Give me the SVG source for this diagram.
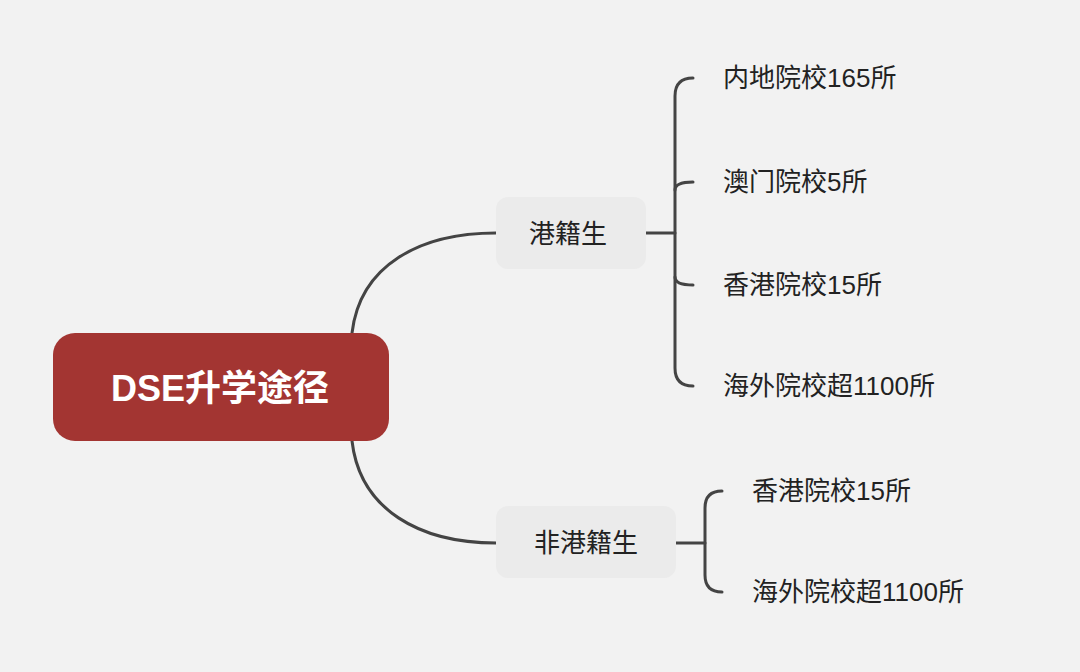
<svg xmlns="http://www.w3.org/2000/svg" width="1080" height="672" viewBox="0 0 1080 672">
<style>
.c{fill:none;stroke:#444;stroke-width:3;stroke-linecap:round}
.t{font-family:"Liberation Sans","Noto Sans CJK SC",sans-serif;font-size:26px;fill:#222;dominant-baseline:central}
.b{fill:#ebebeb}
</style>
<rect width="1080" height="672" fill="#f2f2f2"/>
<g id="connectors">
<path class="c" d="M352,333 C360,265 420,233 496,233"/>
<path class="c" d="M352,441 C360,510 420,543 496,543"/>
<path class="c" d="M646,233 H675"/>
<path class="c" d="M693,78 Q675,78 675,96 V368 Q675,386 693,386"/>
<path class="c" d="M675,190 Q675,182 693,182"/>
<path class="c" d="M675,277 Q675,285 693,285"/>
<path class="c" d="M676,543 H705"/>
<path class="c" d="M722,491 Q705,491 705,508 V575 Q705,592 722,592"/>
</g>
<g id="root"><rect x="53" y="333" width="336" height="108" rx="22" fill="#a33532"/>
<text x="220" y="388" text-anchor="middle" style="font-family:'Liberation Sans','Noto Sans CJK SC',sans-serif;font-size:36px;font-weight:bold;fill:#fff;dominant-baseline:central">DSE升学途径</text></g>
<g id="n1"><rect class="b" x="496" y="197" width="150" height="72" rx="12"/><text class="t" x="568" y="234" text-anchor="middle">港籍生</text></g>
<g id="n2"><rect class="b" x="496" y="506" width="180" height="72" rx="12"/><text class="t" x="586" y="543" text-anchor="middle">非港籍生</text></g>
<g id="l1"><text class="t" x="723" y="78">内地院校165所</text></g>
<g id="l2"><text class="t" x="723" y="182">澳门院校5所</text></g>
<g id="l3"><text class="t" x="723" y="285">香港院校15所</text></g>
<g id="l4"><text class="t" x="723" y="386">海外院校超1100所</text></g>
<g id="l5"><text class="t" x="752" y="491">香港院校15所</text></g>
<g id="l6"><text class="t" x="752" y="592">海外院校超1100所</text></g>
</svg>
